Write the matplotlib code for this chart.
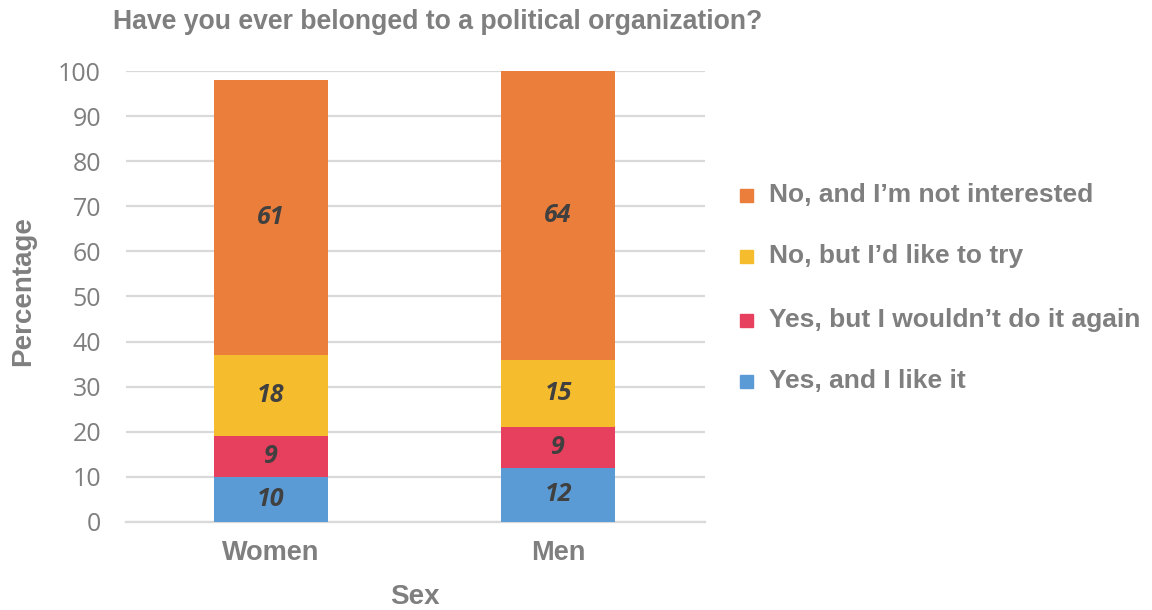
import matplotlib
matplotlib.use("Agg")
import matplotlib.pyplot as plt
from matplotlib.patches import Rectangle
import numpy as np

categories = ["Women", "Men"]
series_names = [
    "Yes, and I like it",
    "Yes, but I wouldn\u2019t do it again",
    "No, but I\u2019d like to try",
    "No, and I\u2019m not interested",
]
yes_like = [10, 12]
yes_not_again = [9, 9]
no_like_to_try = [18, 15]
no_not_interested = [61, 64]
series_values = [yes_like, yes_not_again, no_like_to_try, no_not_interested]
colors = ["#5B9BD5", "#E6405E", "#F5BC2E", "#EB7E3A"]
yticks = list(range(0, 101, 10))

grey = "#7F7F7F"
label_dark = "#404040"

fig = plt.figure(figsize=(11.52, 6.10), dpi=100)
ax = fig.add_axes([0.1094, 0.1443, 0.5026, 0.7393])

x = np.arange(len(categories))
bottom = np.zeros(len(categories))
for name, vals, col in zip(series_names, series_values, colors):
    vals = np.array(vals, dtype=float)
    ax.bar(x, vals, width=0.40, bottom=bottom, color=col, zorder=3)
    for xi, b, v in zip(x, bottom, vals):
        ax.text(xi, b + v / 2, f"{int(v)}", ha="center", va="center",
                fontsize=18, fontweight="bold", fontstyle="italic",
                family="Open Sans", color=label_dark, zorder=4)
    bottom += vals

ax.set_xlim(-0.505, 1.512)
ax.set_ylim(0, 100)
ax.set_yticks(yticks)
ax.set_yticklabels([str(t) for t in yticks], family="Open Sans", fontsize=18, color=grey)
ax.set_xticks(x)
ax.set_xticklabels(categories, family="Liberation Sans", fontweight="bold", fontsize=19.5, color=grey)
ax.tick_params(axis="y", length=0, pad=18)
ax.tick_params(axis="x", length=0, pad=13)
ax.grid(axis="y", color="#D9D9D9", linewidth=1.6, zorder=0)
for s in ["top", "right", "left"]:
    ax.spines[s].set_visible(False)
ax.spines["bottom"].set_color("#D9D9D9")
ax.spines["bottom"].set_linewidth(1.6)

ax.set_ylabel("Percentage", family="Liberation Sans", fontweight="bold", fontsize=20, color=grey)
ax.yaxis.set_label_coords(-0.155, 0.512)
fig.text(0.3605, 1 - 597 / 610, "Sex", ha="center", va="center", family="Liberation Sans",
         fontweight="bold", fontsize=20, color=grey)

fig.text(113 / 1152, 1 - 22 / 610, "Have you ever belonged to a political organization?",
         ha="left", va="center", family="Liberation Sans", fontweight="bold",
         fontsize=19.2, color=grey)

# legend, top entry first
rows_y = [195, 256, 320, 381]
for (name, col), ry in zip(list(zip(series_names, colors))[::-1], rows_y):
    fig.add_artist(Rectangle((740 / 1152, 1 - (ry + 7) / 610), 13 / 1152, 13 / 610,
                             transform=fig.transFigure, color=col))
    fig.text(769 / 1152, 1 - ry / 610, name, ha="left", va="center",
             family="Liberation Sans", fontweight="bold", fontsize=19, color=grey)

fig.savefig("out.png", dpi=100)
